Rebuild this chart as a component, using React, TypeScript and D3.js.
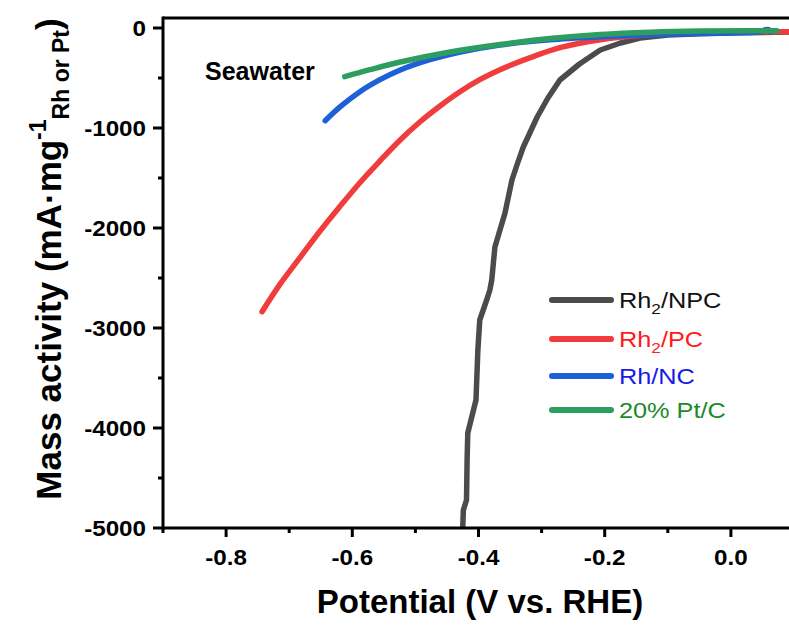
import React from "react";
import * as d3 from "d3";

const series = ["Rh2P/NPC", "Rh2P/PC", "Rh/NC", "20% Pt/C"];
const colors = ["#4b4b4b", "#f03c3c", "#1d60d8", "#2e9e60"];
const textColors = ["#111111", "#ff1a1a", "#1a1ae6", "#1d8a2a"];

const npcV = [-0.425, -0.424, -0.419, -0.418, -0.417, -0.404, -0.401, -0.398, -0.386, -0.382, -0.379, -0.374, -0.366, -0.358, -0.347, -0.338, -0.329, -0.318, -0.307, -0.29, -0.271, -0.24, -0.207, -0.175, -0.144, -0.1, -0.05, 0, 0.05, 0.1];
const npcY = [-5000, -4820, -4720, -4300, -4050, -3720, -3220, -2920, -2700, -2620, -2520, -2190, -2020, -1850, -1520, -1350, -1190, -1040, -890, -700, -520, -360, -220, -150, -100, -70, -58, -50, -45, -40];

const pcV = [-0.743, -0.715, -0.683, -0.652, -0.62, -0.588, -0.557, -0.525, -0.493, -0.461, -0.43, -0.398, -0.366, -0.318, -0.271, -0.207, -0.128, -0.049, 0.1];
const pcY = [-2837, -2567, -2297, -2037, -1787, -1547, -1335, -1125, -940, -780, -640, -517, -417, -297, -197, -117, -67, -47, -36];

const ncV = [-0.643, -0.619, -0.588, -0.556, -0.524, -0.477, -0.429, -0.366, -0.287, -0.207, -0.128, -0.049, 0.02, 0.045, 0.055, 0.06, 0.063];
const ncY = [-927, -787, -637, -517, -420, -317, -240, -170, -118, -88, -68, -55, -45, -38, -18, -15, -35];

const ptV = [-0.612, -0.572, -0.524, -0.445, -0.366, -0.287, -0.207, -0.128, -0.049, 0.02, 0.073];
const ptY = [-487, -417, -340, -240, -165, -105, -65, -42, -30, -27, -28];

const xTicks = [-0.8, -0.6, -0.4, -0.2, 0.0];
const xMinor = [-0.9, -0.7, -0.5, -0.3, -0.1];
const yTicks = [0, -1000, -2000, -3000, -4000, -5000];
const yMinor = [-500, -1500, -2500, -3500, -4500];

const W = 789;
const H = 625;
const left = 163;
const right = 794;
const top = 18;
const bottom = 528;

export default function App() {
  const x = d3.scaleLinear().domain([-0.9, 0.1]).range([left, right]);
  const y = d3.scaleLinear().domain([-5000, 100]).range([bottom, top]);
  const smooth = d3
    .line<[number, number]>()
    .x((d) => x(d[0]))
    .y((d) => y(d[1]))
    .curve(d3.curveCatmullRom.alpha(0.5));
  const jagged = d3
    .line<[number, number]>()
    .x((d) => x(d[0]))
    .y((d) => y(d[1]))
    .curve(d3.curveLinear);

  const data: [number, number][][] = [
    npcV.map((v, i) => [v, npcY[i]] as [number, number]),
    pcV.map((v, i) => [v, pcY[i]] as [number, number]),
    ncV.map((v, i) => [v, ncY[i]] as [number, number]),
    ptV.map((v, i) => [v, ptY[i]] as [number, number]),
  ];

  const font = "'Liberation Sans', Arial, sans-serif";
  const legendY = [300, 339, 376, 410];

  return (
    <svg
      width={W}
      height={H}
      style={{ position: "absolute", left: 0, top: 0, background: "#fff" }}
      fontFamily={font}
    >
      <rect x={0} y={0} width={W} height={H} fill="#fff" />
      <defs>
        <clipPath id="plot">
          <rect x={left} y={top} width={right - left} height={bottom - top} />
        </clipPath>
      </defs>
      <g clipPath="url(#plot)">
        {[0, 1, 2, 3].map((i) => (
          <path
            key={i}
            d={(i === 0 ? jagged(data[i]) : smooth(data[i])) || ""}
            fill="none"
            stroke={colors[i]}
            strokeWidth={5.5}
            strokeLinecap="round"
            strokeLinejoin="round"
          />
        ))}
      </g>
      {/* frame */}
      <line x1={left} x2={right} y1={top} y2={top} stroke="#000" strokeWidth={3} />
      <line x1={left} x2={right} y1={bottom} y2={bottom} stroke="#000" strokeWidth={3} />
      <line x1={left} x2={left} y1={top - 1.5} y2={bottom + 1.5} stroke="#000" strokeWidth={3} />
      {/* x ticks */}
      {xTicks.map((t) => (
        <g key={"xt" + t}>
          <line x1={x(t)} x2={x(t)} y1={bottom} y2={bottom + 9} stroke="#000" strokeWidth={3} />
          <text
            transform={`translate(${x(t)},565) scale(1.1,1)`}
            textAnchor="middle"
            fontSize={22}
            fontWeight="bold"
          >
            {t.toFixed(1)}
          </text>
        </g>
      ))}
      {xMinor.map((t) => (
        <line key={"xm" + t} x1={x(t)} x2={x(t)} y1={bottom} y2={bottom + 5} stroke="#000" strokeWidth={3} />
      ))}
      {/* y ticks */}
      {yTicks.map((t) => (
        <g key={"yt" + t}>
          <line x1={left - 10} x2={left} y1={y(t)} y2={y(t)} stroke="#000" strokeWidth={3} />
          <text
            transform={`translate(146,${y(t) + 8})  scale(1.1,1)`}
            textAnchor="end"
            fontSize={22}
            fontWeight="bold"
          >
            {t}
          </text>
        </g>
      ))}
      {yMinor.map((t) => (
        <line key={"ym" + t} x1={left - 5} x2={left} y1={y(t)} y2={y(t)} stroke="#000" strokeWidth={3} />
      ))}
      {/* axis titles */}
      <text x={480} y={613} textAnchor="middle" fontSize={33} fontWeight="bold">
        Potential (V vs. RHE)
      </text>
      <g transform={`translate(61, 259) rotate(-90)`}>
        <text x={0} y={0} textAnchor="middle" fontSize={35} fontWeight="bold">
          Mass activity (mA·mg
          <tspan fontSize={23} dy={-15}>-1</tspan>
          <tspan fontSize={23} dy={23}>Rh or Pt</tspan>
          <tspan dy={-8}>)</tspan>
        </text>
      </g>
      {/* annotation */}
      <text x={205} y={80} fontSize={25} fontWeight="bold">
        Seawater
      </text>
      {/* legend */}
      {series.map((s, i) => (
        <g key={s}>
          <line
            x1={552}
            x2={611}
            y1={legendY[i]}
            y2={legendY[i]}
            stroke={colors[i]}
            strokeWidth={6}
            strokeLinecap="round"
          />
          <text
            transform={`translate(619,${legendY[i] + 8}) scale(1.15,1)`}
            fontSize={22}
            fill={textColors[i]}
          >
            {s.startsWith("Rh2P") ? (
              <>
                Rh<tspan fontSize={15} dy={6}>2</tspan>
                <tspan dy={-6}>{s.slice(4)}</tspan>
              </>
            ) : (
              s
            )}
          </text>
        </g>
      ))}
    </svg>
  );
}
